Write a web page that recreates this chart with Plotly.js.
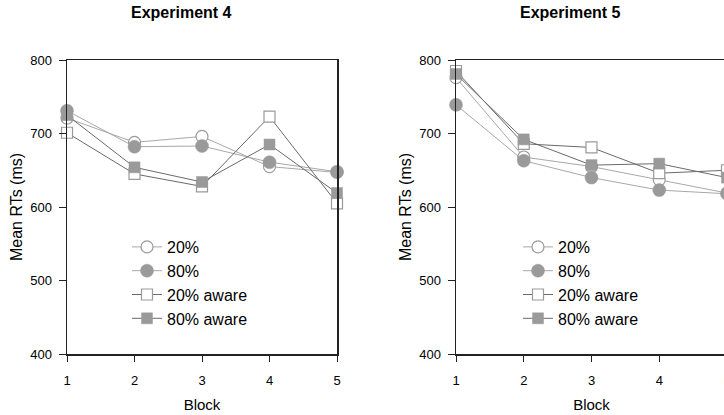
<!DOCTYPE html>
<html>
<head>
<meta charset="utf-8">
<script src="https://cdn.plot.ly/plotly-3.0.1.min.js"></script>
<style>
html, body { margin:0; padding:0; background:#fff; overflow:hidden; width:724px; height:415px; }
#chart { width:740px; height:415px; }
</style>
</head>
<body>
<div id="chart"></div>
<script>
// ---- data ----
const blocks = [1, 2, 3, 4, 5];
const seriesNames = ["20%", "80%", "20% aware", "80% aware"];
const exp4_20 = [721, 688, 696, 655, 647];
const exp4_80 = [731, 682, 683, 661, 648];
const exp4_20aware = [701, 645, 628, 723, 605];
const exp4_80aware = [725, 654, 634, 685, 619];
const exp5_20 = [776, 668, 655, 637, 619];
const exp5_80 = [739, 663, 640, 623, 618];
const exp5_20aware = [785, 686, 681, 646, 650];
const exp5_80aware = [781, 692, 657, 659, 640];
const yTicks = [400, 500, 600, 700, 800];
const xTicks = [1, 2, 3, 4, 5];
const titles = ["Experiment 4", "Experiment 5"];
const xTitle = "Block";
const yTitle = "Mean RTs (ms)";

// ---- styles ----
const W = 740, H = 415;
const styles = [
  {sym: "circle-open", size: 12, mcolor: "#9a9a9a", fill: "#ffffff", lcolor: "#a8a8a8"},
  {sym: "circle", size: 13, mcolor: "#9a9a9a", fill: "#9a9a9a", lcolor: "#a8a8a8"},
  {sym: "square-open", size: 11, mcolor: "#9a9a9a", fill: "#ffffff", lcolor: "#6a6a6a"},
  {sym: "square", size: 11, mcolor: "#9a9a9a", fill: "#9a9a9a", lcolor: "#6a6a6a"}
];

function mk(y, i, xa, ya, leg) {
  const s = styles[i];
  const open = s.sym.indexOf("open") >= 0;
  return {
    x: blocks, y: y, name: seriesNames[i], type: "scatter", mode: "lines+markers",
    xaxis: xa, yaxis: ya, legend: leg, cliponaxis: false,
    line: {color: s.lcolor, width: 1},
    marker: {symbol: open ? s.sym.replace("-open", "") : s.sym, size: s.size,
             color: s.fill, line: {color: s.mcolor, width: open ? 1.2 : 0.5}}
  };
}

const traces = [
  mk(exp4_20, 0, "x", "y", "legend"),
  mk(exp4_80, 1, "x", "y", "legend"),
  mk(exp4_20aware, 2, "x", "y", "legend"),
  mk(exp4_80aware, 3, "x", "y", "legend"),
  mk(exp5_20, 0, "x2", "y2", "legend2"),
  mk(exp5_80, 1, "x2", "y2", "legend2"),
  mk(exp5_20aware, 2, "x2", "y2", "legend2"),
  mk(exp5_80aware, 3, "x2", "y2", "legend2")
];

const fontFam = "Liberation Sans, Arial, sans-serif";
function xax(dom, anchor) {
  return {domain: dom, anchor: anchor, range: [1, 5], tickvals: xTicks, ticktext: xTicks.map(String),
    showgrid: false, zeroline: false, showline: true, linecolor: "#222", linewidth: 1.5, mirror: true,
    ticks: "outside", ticklen: 6, tickcolor: "#222", tickwidth: 1, ticklabelstandoff: 8,
    tickfont: {family: fontFam, size: 13, color: "#000"},
    title: {text: xTitle, font: {family: fontFam, size: 15, color: "#000"}, standoff: 12},
    automargin: false, fixedrange: true};
}
function yax(dom, anchor) {
  return {domain: dom, anchor: anchor, range: [400, 800], tickvals: yTicks, ticktext: yTicks.map(String),
    showgrid: false, zeroline: false, showline: true, linecolor: "#222", linewidth: 1.5, mirror: true,
    ticks: "outside", ticklen: 7, tickcolor: "#222", tickwidth: 1, ticklabelstandoff: 4,
    tickfont: {family: fontFam, size: 13, color: "#000"},
    title: {text: yTitle, font: {family: fontFam, size: 16, color: "#000"}, standoff: 3},
    automargin: false, fixedrange: true};
}
const yDom = [(H - 354) / H, (H - 60) / H];
function leg(xpx) {
  return {x: xpx / W, xanchor: "left", y: (H - 230) / H, yanchor: "top",
    bgcolor: "rgba(0,0,0,0)", borderwidth: 0, tracegroupgap: 0,
    font: {family: fontFam, size: 16, color: "#000"}};
}

const layout = {
  width: W, height: H, margin: {l: 0, r: 0, t: 0, b: 0},
  paper_bgcolor: "#fff", plot_bgcolor: "#fff", showlegend: true,
  xaxis: xax([67 / W, 337 / W], "y"),
  yaxis: yax(yDom, "x"),
  xaxis2: xax([456 / W, 727 / W], "y2"),
  yaxis2: yax(yDom, "x2"),
  legend: leg(127),
  legend2: leg(518),
  annotations: [
    {text: "<b>" + titles[0] + "</b>", xref: "paper", yref: "paper", x: 181 / W, y: (H - 13) / H,
     xanchor: "center", yanchor: "middle", showarrow: false, font: {family: fontFam, size: 16, color: "#000"}},
    {text: "<b>" + titles[1] + "</b>", xref: "paper", yref: "paper", x: 570 / W, y: (H - 13) / H,
     xanchor: "center", yanchor: "middle", showarrow: false, font: {family: fontFam, size: 16, color: "#000"}}
  ]
};

Plotly.newPlot("chart", traces, layout, {staticPlot: true, displayModeBar: false});
</script>
</body>
</html>
